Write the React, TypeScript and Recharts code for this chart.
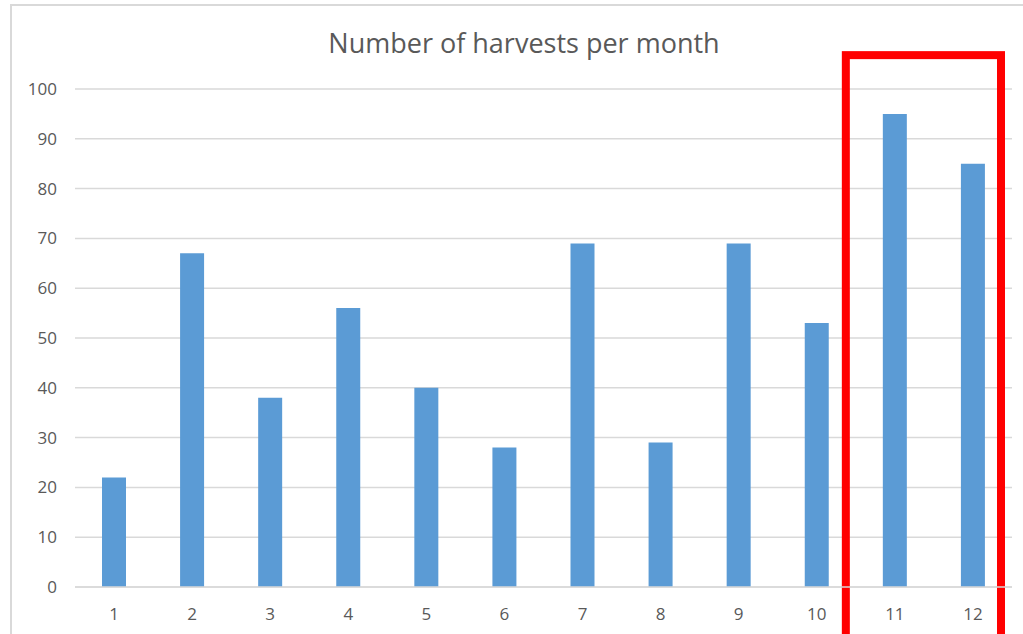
import React from "react";
import { BarChart, Bar, XAxis, YAxis, CartesianGrid, ReferenceArea } from "recharts";

const months = ["1", "2", "3", "4", "5", "6", "7", "8", "9", "10", "11", "12"];
const harvests = [22, 67, 38, 56, 40, 28, 69, 29, 69, 53, 95, 85];
const yTicks = [0, 10, 20, 30, 40, 50, 60, 70, 80, 90, 100];
const highlightFrom = "11";
const highlightTo = "12";

const data = months.map((m, i) => ({ month: m, value: harvests[i] }));

const RedBox = (props: any) => {
  const { x, y, width, height } = props;
  return (
    <rect x={x - 10} y={y} width={width - 1} height={height} fill="none" stroke="#FF0000" strokeWidth={8} />
  );
};

export default function App() {
  const font = "'Open Sans', sans-serif";
  return (
    <div style={{ position: "fixed", left: 0, top: 0, width: 1023, height: 634, overflow: "hidden", background: "#fff" }}>
      <div style={{ position: "absolute", left: 10, top: 4, width: 1100, height: 800, border: "2px solid #d9d9d9" }} />
      <div
        style={{
          position: "absolute",
          left: 0,
          width: 1048,
          top: 25,
          textAlign: "center",
          fontFamily: font,
          fontSize: 27,
          color: "#595959",
          lineHeight: "36px",
        }}
      >
        Number of harvests per month
      </div>
      <div style={{ position: "absolute", left: 0, top: 0 }}>
        <BarChart width={1023} height={634} data={data} margin={{ top: 89, right: 11, bottom: 17, left: 0 }}>
          <CartesianGrid vertical={false} stroke="#d9d9d9" strokeWidth={1.5} />
          <XAxis
            dataKey="month"
            height={30}
            axisLine={{ stroke: "#d9d9d9", strokeWidth: 1.5 }}
            tickLine={false}
            tickSize={0}
            tickMargin={21}
            tick={{ fill: "#595959", fontSize: 17, fontFamily: font }}
            interval={0}
          />
          <YAxis
            width={75}
            domain={[0, 100]}
            ticks={yTicks}
            axisLine={false}
            tickLine={false}
            tickSize={0}
            tickMargin={18}
            tick={{ fill: "#595959", fontSize: 17, fontFamily: font }}
          />
          <Bar dataKey="value" fill="#5B9BD5" barSize={24} isAnimationActive={false} />
          <ReferenceArea
            x1={highlightFrom}
            x2={highlightTo}
            y1={106.8}
            y2={-15}
            ifOverflow="visible"
            shape={<RedBox />}
          />
        </BarChart>
      </div>
    </div>
  );
}
